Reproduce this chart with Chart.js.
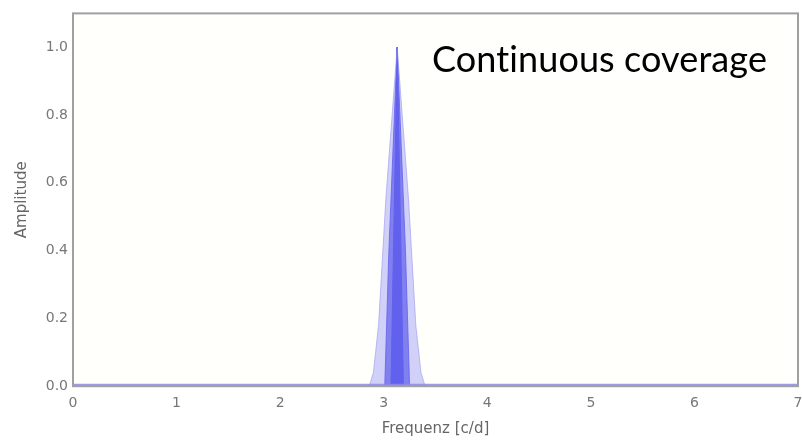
<!DOCTYPE html>
<html>
<head>
<meta charset="utf-8">
<script src="https://cdn.jsdelivr.net/npm/chart.js@4"></script>
<style>
  html, body { margin: 0; padding: 0; background: #fff; }
  #wrap { width: 802px; height: 442px; }
</style>
</head>
<body>
<div id="wrap"><canvas id="c"></canvas></div>
<script>
// Data
const xTicks = [0, 1, 2, 3, 4, 5, 6, 7];
const yTicks = [0.0, 0.2, 0.4, 0.6, 0.8, 1.0];

// outer, light envelope of the peak
const outerX = [2.86, 2.90, 2.95, 3.02, 3.13, 3.24, 3.31, 3.36, 3.40];
const outerY = [0.00, 0.04, 0.18, 0.55, 1.00, 0.55, 0.18, 0.04, 0.00];

// medium band
const midX = [3.01, 3.05, 3.13, 3.21, 3.25];
const midY = [0.00, 0.40, 1.00, 0.40, 0.00];

// dark core
const coreX = [3.07, 3.13, 3.19];
const coreY = [0.00, 1.00, 0.00];

// flat baseline over the full range
const baseX = [0, 7];
const baseY = [0, 0];

const toPts = (xs, ys) => xs.map((x, i) => ({ x: x, y: ys[i] }));

// plot background + frame
const framePlugin = {
    id: 'frame',
    beforeDraw(chart) {
        const a = chart.chartArea, ctx = chart.ctx;
        ctx.save();
        ctx.fillStyle = '#fffffc';
        ctx.fillRect(a.left, a.top, a.right - a.left, a.bottom - a.top);
        ctx.restore();
    },
    afterDraw(chart) {
        const a = chart.chartArea, ctx = chart.ctx;
        ctx.save();
        ctx.strokeStyle = '#a0a0a0';
        ctx.lineWidth = 2;
        ctx.strokeRect(a.left, a.top, a.right - a.left, a.bottom - a.top);

        // annotation text, fitted to the width of the original
        ctx.fillStyle = '#000';
        ctx.font = '37px Lato';
        ctx.letterSpacing = '0.1px'; // no "ti" ligature
        ctx.textBaseline = 'alphabetic';
        const txt = 'Continuous coverage';
        const w = ctx.measureText(txt).width;
        const target = 335;
        ctx.translate(432, 72);
        ctx.scale(target / w, 1);
        ctx.fillText(txt, 0, 0);
        ctx.restore();
    }
};

new Chart(document.getElementById('c'), {
    type: 'line',
    data: {
        datasets: [
            {
                data: toPts(baseX, baseY),
                borderColor: 'rgba(140,140,225,0.85)',
                borderWidth: 5,
                pointRadius: 0,
                fill: false
            },
            {
                data: toPts(outerX, outerY),
                borderColor: 'rgba(150,150,245,0.6)',
                backgroundColor: 'rgba(150,150,245,0.45)',
                borderWidth: 1,
                pointRadius: 0,
                fill: 'origin'
            },
            {
                data: toPts(midX, midY),
                borderColor: 'rgba(60,60,235,0.85)',
                backgroundColor: 'rgba(60,60,235,0.75)',
                borderWidth: 1,
                pointRadius: 0,
                fill: 'origin'
            },
            {
                data: toPts(coreX, coreY),
                borderColor: 'rgb(30,30,215)',
                backgroundColor: 'rgb(35,35,220)',
                borderWidth: 1,
                pointRadius: 0,
                fill: 'origin'
            }
        ]
    },
    options: {
        responsive: true,
        maintainAspectRatio: false,
        animation: false,
        layout: { padding: { left: 13, right: 0, top: 12, bottom: 4 } },
        plugins: {
            legend: { display: false },
            tooltip: { enabled: false }
        },
        scales: {
            x: {
                type: 'linear',
                min: 0,
                max: 7,
                afterBuildTicks: s => { s.ticks = xTicks.map(v => ({ value: v })); },
                afterFit: s => { s.paddingRight = 4; },
                grid: { display: false },
                border: { display: false },
                ticks: {
                    color: '#777',
                    font: { family: 'DejaVu Sans', size: 14 },
                    padding: 1,
                    maxRotation: 0
                },
                title: {
                    display: true,
                    text: 'Frequenz [c/d]',
                    color: '#666',
                    font: { family: 'DejaVu Sans', size: 15 },
                    padding: { top: 7, bottom: 0 }
                }
            },
            y: {
                min: 0,
                max: 1.1,
                afterBuildTicks: s => { s.ticks = yTicks.map(v => ({ value: v })); },
                afterFit: s => { s.width = 60; },
                grid: { display: false, drawTicks: false },
                border: { display: false },
                ticks: {
                    color: '#777',
                    font: { family: 'DejaVu Sans', size: 14 },
                    padding: 5,
                    callback: v => v.toFixed(1)
                },
                title: {
                    display: true,
                    text: 'Amplitude',
                    color: '#666',
                    font: { family: 'DejaVu Sans', size: 15 },
                    padding: { top: 0, bottom: 4 }
                }
            }
        }
    },
    plugins: [framePlugin]
});
</script>
</body>
</html>
